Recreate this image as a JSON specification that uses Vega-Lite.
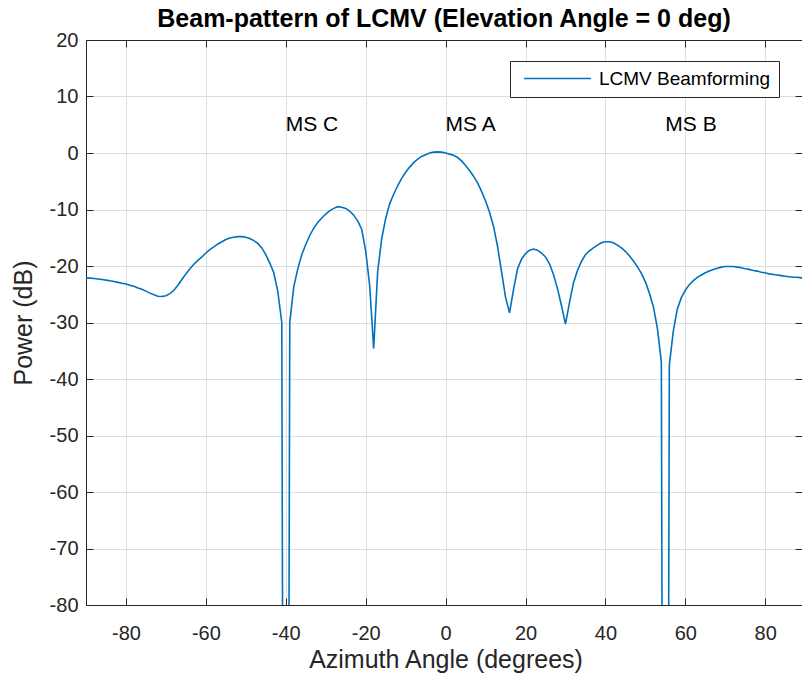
{
  "$schema": "https://vega.github.io/schema/vega-lite/v6.json",
  "width": 716,
  "height": 565,
  "autosize": {"type": "none"},
  "padding": {"left": 86, "top": 40, "right": 0, "bottom": 70},
  "background": "white",
  "title": {"text": "Beam-pattern of LCMV (Elevation Angle = 0 deg)", "font": "Liberation Sans", "fontSize": 25, "fontWeight": "bold", "color": "#000000", "anchor": "middle", "frame": "group", "offset": 13, "baseline": "alphabetic", "dy": 35},
  "config": {"view": {"stroke": null}, "font": "Liberation Sans"},
  "datasets": {
    "pattern": [
      {"az": -90, "db": -22.1}, {"az": -89, "db": -22.15}, {"az": -88, "db": -22.2}, {"az": -87, "db": -22.3}, {"az": -86, "db": -22.4},
      {"az": -85, "db": -22.5}, {"az": -84, "db": -22.6}, {"az": -83, "db": -22.75}, {"az": -82, "db": -22.9}, {"az": -81, "db": -23.05},
      {"az": -80, "db": -23.2}, {"az": -79, "db": -23.4}, {"az": -78, "db": -23.6}, {"az": -77, "db": -23.9}, {"az": -76, "db": -24.1},
      {"az": -75, "db": -24.45}, {"az": -74, "db": -24.8}, {"az": -73, "db": -25.1}, {"az": -72, "db": -25.35}, {"az": -71, "db": -25.4},
      {"az": -70, "db": -25.25}, {"az": -69, "db": -24.9}, {"az": -68, "db": -24.3}, {"az": -67, "db": -23.4}, {"az": -66, "db": -22.4},
      {"az": -65, "db": -21.4}, {"az": -64, "db": -20.5}, {"az": -63, "db": -19.7}, {"az": -62, "db": -19.0}, {"az": -61, "db": -18.4},
      {"az": -60, "db": -17.7}, {"az": -59, "db": -17.1}, {"az": -58, "db": -16.6}, {"az": -57, "db": -16.1}, {"az": -56, "db": -15.7},
      {"az": -55, "db": -15.3}, {"az": -54, "db": -15.05}, {"az": -53, "db": -14.9}, {"az": -52, "db": -14.8}, {"az": -51, "db": -14.8},
      {"az": -50, "db": -14.9}, {"az": -49, "db": -15.15}, {"az": -48, "db": -15.5}, {"az": -47, "db": -16.0}, {"az": -46, "db": -16.8},
      {"az": -45, "db": -18.0}, {"az": -44, "db": -19.5}, {"az": -43, "db": -21.2}, {"az": -42, "db": -24.5}, {"az": -41, "db": -30.0},
      {"az": -40, "db": -300}, {"az": -39, "db": -30.0}, {"az": -38, "db": -23.7}, {"az": -37, "db": -20.5}, {"az": -36, "db": -18.0},
      {"az": -35, "db": -16.2}, {"az": -34, "db": -14.6}, {"az": -33, "db": -13.3}, {"az": -32, "db": -12.3}, {"az": -31, "db": -11.5},
      {"az": -30, "db": -10.8}, {"az": -29, "db": -10.2}, {"az": -28, "db": -9.8}, {"az": -27, "db": -9.5}, {"az": -26, "db": -9.6},
      {"az": -25, "db": -9.8}, {"az": -24, "db": -10.3}, {"az": -23, "db": -11.0}, {"az": -22, "db": -12.0}, {"az": -21, "db": -13.5},
      {"az": -20, "db": -17.3}, {"az": -19, "db": -23.5}, {"az": -18, "db": -34.6}, {"az": -17, "db": -21.0}, {"az": -16, "db": -15.2},
      {"az": -15, "db": -11.6}, {"az": -14, "db": -9.0}, {"az": -13, "db": -7.3}, {"az": -12, "db": -5.8}, {"az": -11, "db": -4.5},
      {"az": -10, "db": -3.4}, {"az": -9, "db": -2.5}, {"az": -8, "db": -1.7}, {"az": -7, "db": -1.1}, {"az": -6, "db": -0.6},
      {"az": -5, "db": -0.3}, {"az": -4, "db": 0.0}, {"az": -3, "db": 0.15}, {"az": -2, "db": 0.2}, {"az": -1, "db": 0.15},
      {"az": 0, "db": 0.0}, {"az": 1, "db": -0.2}, {"az": 2, "db": -0.4}, {"az": 3, "db": -0.8}, {"az": 4, "db": -1.4},
      {"az": 5, "db": -2.2}, {"az": 6, "db": -3.1}, {"az": 7, "db": -4.1}, {"az": 8, "db": -5.3}, {"az": 9, "db": -6.8},
      {"az": 10, "db": -8.5}, {"az": 11, "db": -10.5}, {"az": 12, "db": -13.0}, {"az": 13, "db": -16.5}, {"az": 14, "db": -21.0},
      {"az": 15, "db": -25.5}, {"az": 16, "db": -28.3}, {"az": 17, "db": -24.2}, {"az": 18, "db": -20.5}, {"az": 19, "db": -18.8},
      {"az": 20, "db": -17.8}, {"az": 21, "db": -17.2}, {"az": 22, "db": -17.0}, {"az": 23, "db": -17.2}, {"az": 24, "db": -17.7},
      {"az": 25, "db": -18.4}, {"az": 26, "db": -19.6}, {"az": 27, "db": -21.5}, {"az": 28, "db": -24.0}, {"az": 29, "db": -27.0},
      {"az": 30, "db": -30.3}, {"az": 31, "db": -26.5}, {"az": 32, "db": -23.0}, {"az": 33, "db": -20.8}, {"az": 34, "db": -19.2},
      {"az": 35, "db": -18.0}, {"az": 36, "db": -17.3}, {"az": 37, "db": -16.8}, {"az": 38, "db": -16.3}, {"az": 39, "db": -15.9},
      {"az": 40, "db": -15.7}, {"az": 41, "db": -15.7}, {"az": 42, "db": -15.9}, {"az": 43, "db": -16.3}, {"az": 44, "db": -16.8},
      {"az": 45, "db": -17.4}, {"az": 46, "db": -18.2}, {"az": 47, "db": -19.1}, {"az": 48, "db": -20.1}, {"az": 49, "db": -21.3},
      {"az": 50, "db": -22.8}, {"az": 51, "db": -24.8}, {"az": 52, "db": -27.2}, {"az": 53, "db": -31.0}, {"az": 54, "db": -37.0},
      {"az": 55, "db": -300}, {"az": 56, "db": -37.5}, {"az": 57, "db": -31.5}, {"az": 58, "db": -27.6}, {"az": 59, "db": -25.6},
      {"az": 60, "db": -24.3}, {"az": 61, "db": -23.3}, {"az": 62, "db": -22.6}, {"az": 63, "db": -22.0}, {"az": 64, "db": -21.6},
      {"az": 65, "db": -21.2}, {"az": 66, "db": -20.9}, {"az": 67, "db": -20.6}, {"az": 68, "db": -20.4}, {"az": 69, "db": -20.2},
      {"az": 70, "db": -20.1}, {"az": 71, "db": -20.1}, {"az": 72, "db": -20.1}, {"az": 73, "db": -20.2}, {"az": 74, "db": -20.3},
      {"az": 75, "db": -20.5}, {"az": 76, "db": -20.6}, {"az": 77, "db": -20.8}, {"az": 78, "db": -20.9}, {"az": 79, "db": -21.1},
      {"az": 80, "db": -21.2}, {"az": 81, "db": -21.4}, {"az": 82, "db": -21.5}, {"az": 83, "db": -21.6}, {"az": 84, "db": -21.7},
      {"az": 85, "db": -21.8}, {"az": 86, "db": -21.9}, {"az": 87, "db": -22.0}, {"az": 88, "db": -22.0}, {"az": 89, "db": -22.1},
      {"az": 90, "db": -22.1}
    ],
    "labels": [
      {"az": -40, "db": 5, "label": "MS C"},
      {"az": 0, "db": 5, "label": "MS A"},
      {"az": 55, "db": 5, "label": "MS B"}
    ]
  },
  "layer": [
    {
      "data": {"name": "pattern"},
      "mark": {"type": "line", "clip": true, "strokeWidth": 1.6},
      "encoding": {
        "x": {
          "field": "az", "type": "quantitative",
          "scale": {"domain": [-90, 89.2], "nice": false, "zero": false},
          "axis": {
            "orient": "bottom",
            "values": [-80, -60, -40, -20, 0, 20, 40, 60, 80],
            "labelExpr": "'' + datum.value",
            "grid": true, "gridColor": "#dedede", "gridWidth": 1,
            "domainColor": "#262626", "domainWidth": 1,
            "tickColor": "#262626", "tickSize": -7, "tickWidth": 1,
            "labelFontSize": 20, "labelColor": "#262626", "labelPadding": 25, "labelFlush": false, "labelFont": "Liberation Sans",
            "title": "Azimuth Angle (degrees)", "titleFontSize": 25, "titleFontWeight": "normal", "titleColor": "#262626", "titleFont": "Liberation Sans",
            "titleX": 359.5, "titleY": 54, "titleBaseline": "middle", "titleAlign": "center"
          }
        },
        "y": {
          "field": "db", "type": "quantitative",
          "scale": {"domain": [-80, 20], "nice": false, "zero": false},
          "axis": {
            "orient": "left",
            "values": [-80, -70, -60, -50, -40, -30, -20, -10, 0, 10, 20],
            "labelExpr": "'' + datum.value",
            "grid": true, "gridColor": "#dedede", "gridWidth": 1,
            "domainColor": "#262626", "domainWidth": 1,
            "tickColor": "#262626", "tickSize": -7, "tickWidth": 1,
            "labelFontSize": 20, "labelColor": "#262626", "labelPadding": 15, "labelFont": "Liberation Sans",
            "title": "Power (dB)", "titleFontSize": 25, "titleFontWeight": "normal", "titleColor": "#262626", "titleFont": "Liberation Sans",
            "titleX": -63, "titleY": 282.5, "titleAngle": -90, "titleBaseline": "middle", "titleAlign": "center"
          }
        },
        "color": {
          "datum": "LCMV Beamforming",
          "scale": {"range": ["#0072BD"]},
          "legend": {
            "title": null, "orient": "none", "legendX": 424, "legendY": 21,
            "strokeColor": "#262626", "fillColor": "white", "padding": 8,
            "symbolType": "M-4,0H4", "symbolSize": 281, "symbolStrokeWidth": 1.6, "symbolOffset": 30,
            "labelFontSize": 19, "labelColor": "#000000", "labelOffset": 32, "labelLimit": 400, "labelFont": "Liberation Sans"
          }
        }
      }
    },
    {
      "data": {"name": "labels"},
      "mark": {"type": "text", "align": "left", "baseline": "middle", "fontSize": 21, "font": "Liberation Sans", "color": "#000000"},
      "encoding": {
        "x": {
          "field": "az", "type": "quantitative",
          "scale": {"domain": [-90, 89.2], "nice": false, "zero": false},
          "axis": {"orient": "top", "values": [-80, -60, -40, -20, 0, 20, 40, 60, 80], "labels": false, "title": null, "grid": false,
                   "domainColor": "#262626", "domainWidth": 1, "tickColor": "#262626", "tickSize": -7, "tickWidth": 1}
        },
        "y": {
          "field": "db", "type": "quantitative",
          "scale": {"domain": [-80, 20], "nice": false, "zero": false},
          "axis": {"orient": "right", "values": [-80, -70, -60, -50, -40, -30, -20, -10, 0, 10, 20], "labels": false, "title": null, "grid": false,
                   "domain": false, "tickColor": "#262626", "tickSize": -7, "tickWidth": 1}
        },
        "text": {"field": "label"}
      }
    }
  ],
  "resolve": {"axis": {"x": "independent", "y": "independent"}}
}
